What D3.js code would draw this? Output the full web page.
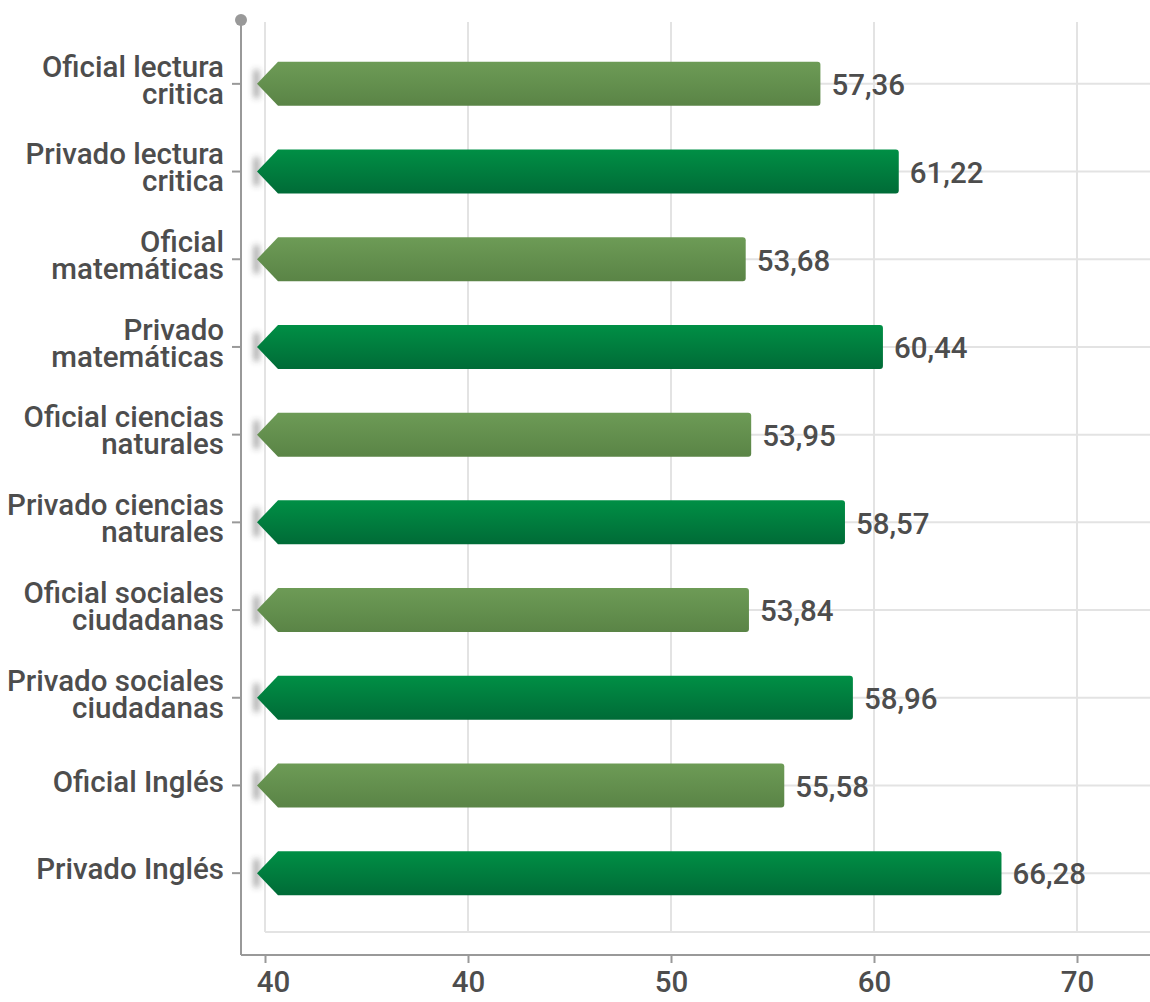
<!DOCTYPE html>
<html lang="es">
<head>
  <meta charset="UTF-8" />
  <title>Puntajes oficial vs privado</title>
  <script src="https://cdn.jsdelivr.net/npm/d3@7"></script>
  <style>
    body, html { margin:0; padding:0; background:#fff; }
    #chart { display:block; }
    text { font-family: Roboto, Arial, sans-serif; font-weight:500; fill:#4d4d4d; }
  </style>
</head>
<body>
  <svg id="chart" width="1150" height="1002"></svg>
  <script>
    // data
    const categories = [
      ['Oficial lectura', 'critica'],
      ['Privado lectura', 'critica'],
      ['Oficial', 'matemáticas'],
      ['Privado', 'matemáticas'],
      ['Oficial ciencias', 'naturales'],
      ['Privado ciencias', 'naturales'],
      ['Oficial sociales', 'ciudadanas'],
      ['Privado sociales', 'ciudadanas'],
      ['Oficial Inglés'],
      ['Privado Inglés']
    ];
    const values = [57.36, 61.22, 53.68, 60.44, 53.95, 58.57, 53.84, 58.96, 55.58, 66.28];
    const tickValues = [30, 40, 50, 60, 70];
    const tickLabels = ['40', '40', '50', '60', '70'];

    const rows = categories.map((c, i) => ({ key: c.join(' '), lines: c, value: values[i], oficial: i % 2 === 0 }));

    const svg = d3.select('#chart');
    const x = d3.scaleLinear().domain([30, 70]).range([265, 1077]);
    const y = d3.scaleBand().domain(rows.map(d => d.key)).range([40, 917]);
    const gridTop = 22, gridBottom = 932, gridRight = 1150;
    const axisX = 241, axisY = 955;
    const fs = 29.5;

    // gradients + shadow
    const defs = svg.append('defs');
    [['gOficial', '#6d9b56', '#5a8446'], ['gPrivado', '#008f45', '#006b37']].forEach(([id, a, b]) => {
      const g = defs.append('linearGradient').attr('id', id).attr('x1', 0).attr('y1', 0).attr('x2', 0).attr('y2', 1);
      g.append('stop').attr('offset', '0%').attr('stop-color', a);
      g.append('stop').attr('offset', '100%').attr('stop-color', b);
    });
    defs.append('filter').attr('id', 'blur')
      .attr('x', '-300%').attr('width', '700%').attr('y', '-50%').attr('height', '200%')
      .append('feGaussianBlur').attr('stdDeviation', 3);

    // grid
    const grid = svg.append('g');
    grid.selectAll('.vg').data(tickValues).join('line')
      .attr('x1', d => x(d)).attr('x2', d => x(d))
      .attr('y1', gridTop).attr('y2', gridBottom)
      .attr('stroke', '#e3e3e3').attr('stroke-width', 2);
    grid.selectAll('.hg').data(rows).join('line')
      .attr('x1', x(30)).attr('x2', gridRight)
      .attr('y1', d => y(d.key) + y.bandwidth() / 2).attr('y2', d => y(d.key) + y.bandwidth() / 2)
      .attr('stroke', '#e3e3e3').attr('stroke-width', 2);
    grid.append('line')
      .attr('x1', x(30)).attr('x2', gridRight).attr('y1', gridBottom).attr('y2', gridBottom)
      .attr('stroke', '#e3e3e3').attr('stroke-width', 2);

    // bars
    const h = 44, tip = 21;
    const bars = svg.append('g').selectAll('g').data(rows).join('g')
      .attr('transform', d => `translate(0,${y(d.key) + y.bandwidth() / 2})`);
    bars.append('rect')
      .attr('x', x(30) - 11).attr('width', 5).attr('y', -14).attr('height', 28)
      .attr('fill', '#333').attr('opacity', 0.5).attr('filter', 'url(#blur)');
    bars.append('path')
      .attr('d', d => {
        const x0 = x(30) - 8, x1 = x(d.value), r = 3;
        return `M${x0},0 L${x0 + tip},${-h / 2} L${x1 - r},${-h / 2} Q${x1},${-h / 2} ${x1},${-h / 2 + r}
                L${x1},${h / 2 - r} Q${x1},${h / 2} ${x1 - r},${h / 2} L${x0 + tip},${h / 2} Z`;
      })
      .attr('fill', d => d.oficial ? 'url(#gOficial)' : 'url(#gPrivado)');
    bars.append('text')
      .attr('x', d => x(d.value) + 11).attr('y', 1).attr('dy', '0.35em')
      .attr('font-size', fs).text(d => d3.format('.2f')(d.value).replace('.', ','));

    // y axis
    svg.append('line').attr('x1', axisX).attr('x2', axisX).attr('y1', 20).attr('y2', axisY)
      .attr('stroke', '#999').attr('stroke-width', 2);
    svg.append('circle').attr('cx', axisX).attr('cy', 20).attr('r', 6).attr('fill', '#999');
    const yAxis = svg.append('g').attr('transform', `translate(${axisX},0)`)
      .call(d3.axisLeft(y).tickSize(9).tickFormat(''));
    yAxis.select('.domain').remove();
    yAxis.selectAll('.tick line').attr('stroke', '#999').attr('stroke-width', 2);
    yAxis.selectAll('.tick').each(function (k) {
      const r = rows.find(d => d.key === k);
      const n = r.lines.length;
      r.lines.forEach((l, i) => {
        d3.select(this).append('text')
          .attr('x', -17).attr('y', (i - (n - 1) / 2) * 27 - 4).attr('dy', '0.35em')
          .attr('text-anchor', 'end').attr('font-size', fs)
          .style('fill', '#4d4d4d').text(l);
      });
    });

    // x axis
    const xAxis = svg.append('g').attr('transform', `translate(0,${axisY})`)
      .call(d3.axisBottom(x).tickValues(tickValues).tickSize(8).tickFormat((d, i) => tickLabels[i]));
    xAxis.select('.domain').remove();
    xAxis.append('line').attr('x1', axisX).attr('x2', 1150).attr('stroke', '#999').attr('stroke-width', 2);
    xAxis.selectAll('.tick line').attr('stroke', '#999').attr('stroke-width', 2);
    xAxis.selectAll('.tick text').attr('font-size', fs).attr('y', 16).style('fill', '#4d4d4d')
      .attr('font-family', 'Roboto, Arial, sans-serif').attr('font-weight', 500)
      .attr('dx', (d, i) => i === 0 ? 8 : 0);
  </script>
</body>
</html>
